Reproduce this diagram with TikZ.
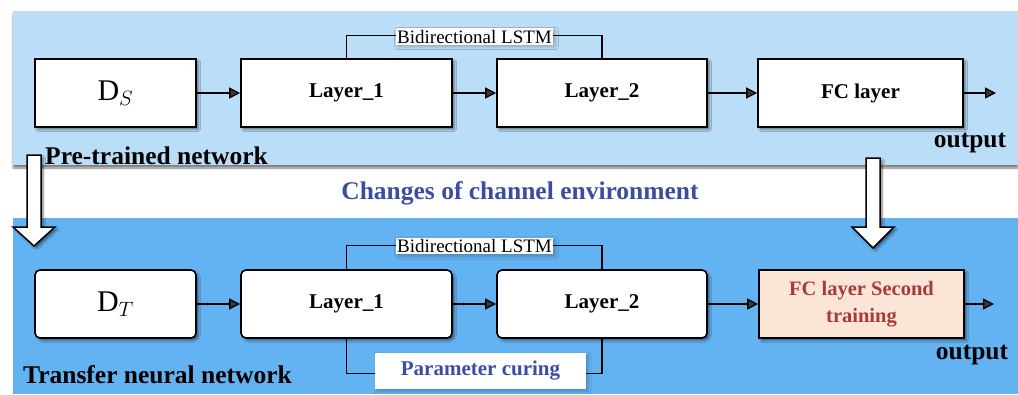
\documentclass[tikz,border=0pt]{standalone}
\usepackage{fontspec}
\setmainfont{Liberation Serif}
\usetikzlibrary{arrows.meta,shadows.blur,positioning}
\definecolor{panelA}{RGB}{187,222,248}
\definecolor{panelB}{RGB}{99,179,243}
\definecolor{capblue}{RGB}{58,77,163}
\definecolor{fcfill}{RGB}{251,229,214}
\definecolor{fctext}{RGB}{168,58,58}
\tikzset{
  sh/.style={blur shadow={shadow xshift=2.5pt,shadow yshift=-2.5pt,shadow blur steps=6,shadow opacity=45}},
  lsh/.style={blur shadow={shadow xshift=2pt,shadow yshift=-2pt,shadow blur steps=5,shadow opacity=25,shadow blur radius=3pt}},
  blockbox/.style={draw=black,line width=1.6pt,fill=white,minimum height=68pt,sh,inner sep=0pt},
  rblock/.style={blockbox,rounded corners=5pt},
  lbl/.style={fill=white,inner sep=1.5pt,font=\fontsize{19}{21}\selectfont,lsh},
  conn/.style={line width=1.3pt,-{Triangle[length=11pt,width=11pt]}},
  brk/.style={line width=1.3pt},
  bigtext/.style={font=\fontsize{25.5}{28}\selectfont\bfseries,inner sep=0pt},
  laytext/.style={font=\fontsize{21}{24}\selectfont\bfseries},
  hollow/.style={draw=black,line width=1.5pt,fill=white,sh,line join=miter},
  dtext/.style={font=\fontsize{30}{32}\selectfont},
}
\begin{document}
\begin{tikzpicture}[x=1pt,y=-1pt]
\useasboundingbox (0,0) rectangle (1018,394);
% panels
\fill[panelA,blur shadow={shadow xshift=0pt,shadow yshift=-3pt,shadow blur steps=6,shadow opacity=50}] (13,11) rectangle (1018,165);
\fill[panelB] (13,218) rectangle (1018,394);

% hollow arrows between the two networks
\draw[hollow] (27,155) -- (41,155) -- (41,227) -- (55,227) -- (34,246) -- (13,227) -- (27,227) -- cycle;
\draw[hollow] (866,158) -- (880,158) -- (880,227) -- (894,227) -- (873,248) -- (852,227) -- (866,227) -- cycle;

% pre-trained network
\node[blockbox,minimum width=161pt,dtext] (ds) at (115.5,93) {$\mathrm{D}_{S}$};
\node[blockbox,minimum width=211pt,laytext] (l1a) at (346.5,93) {Layer\_1};
\node[blockbox,minimum width=210pt,laytext] (l2a) at (602,93) {Layer\_2};
\node[blockbox,minimum width=205pt,laytext] (fca) at (860.5,93) {FC layer};
\coordinate (outa) at (996,93);
\draw[conn] (ds) -- (l1a);
\draw[conn] (l1a) -- (l2a);
\draw[conn] (l2a) -- (fca);
\draw[conn] (fca) -- (outa);
\draw[brk] (l1a.north) -- ++(0,-23) -| (l2a.north);
\node[lbl] (bia) at (474.5,36.5) {Bidirectional LSTM};
\node[bigtext] (outta) at (970,143) {output};
\node[bigtext,anchor=west] (pre) at (45,156) {Pre-trained network};

% caption between panels
\node[bigtext,text=capblue] (chg) at (520,193) {Changes of channel environment};

% transfer network
\node[rblock,minimum width=161pt,dtext] (dt) at (115.5,304) {$\mathrm{D}_{T}$};
\node[rblock,minimum width=211pt,laytext] (l1b) at (346.5,304) {Layer\_1};
\node[rblock,minimum width=210pt,laytext] (l2b) at (602,304) {Layer\_2};
\node[blockbox,fill=fcfill,minimum width=205pt,text=fctext,laytext,align=center,
      font=\fontsize{20.5}{27}\selectfont\bfseries] (fcb) at (861.5,304) {FC layer Second\\training};
\coordinate (outb) at (994,304);
\draw[conn] (dt) -- (l1b);
\draw[conn] (l1b) -- (l2b);
\draw[conn] (l2b) -- (fcb);
\draw[conn] (fcb) -- (outb);
\draw[brk] (l1b.north) -- ++(0,-24) -| (l2b.north);
\node[lbl] (bib) at (474.5,246) {Bidirectional LSTM};
\draw[brk] (l1b.south) -- ++(0,35) -| (l2b.south);
\node[fill=white,lsh,minimum width=211pt,minimum height=36pt,inner sep=0pt,
      font=\fontsize{21}{24}\selectfont\bfseries,text=capblue] (cur) at (480.5,371) {Parameter curing};
\node[bigtext] (outtb) at (972,355) {output};
\node[bigtext,anchor=west] (tnn) at (23,375) {Transfer neural network};
\end{tikzpicture}
\end{document}
